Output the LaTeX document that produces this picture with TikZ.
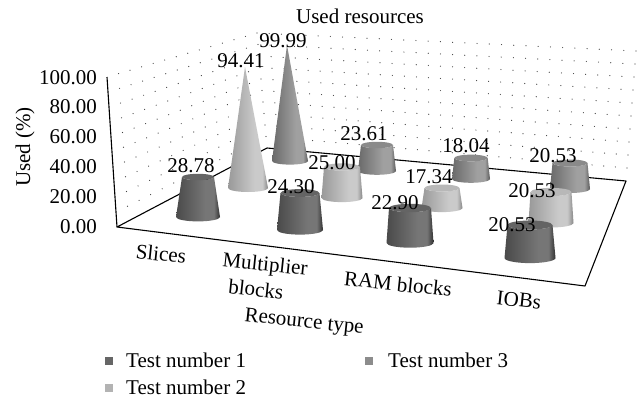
\documentclass[tikz,border=0pt]{standalone}
\usepackage{fontspec}
\setmainfont{Liberation Serif}
\usetikzlibrary{calc}
\definecolor{cAl}{HTML}{4A4A4A}\definecolor{cAm}{HTML}{767676}\definecolor{cAr}{HTML}{303030}
\definecolor{cBl}{HTML}{999999}\definecolor{cBm}{HTML}{CACACA}\definecolor{cBr}{HTML}{868686}
\definecolor{cCl}{HTML}{6A6A6A}\definecolor{cCm}{HTML}{A0A0A0}\definecolor{cCr}{HTML}{585858}
\definecolor{capA}{HTML}{646464}\definecolor{capB}{HTML}{B8B8B8}\definecolor{capC}{HTML}{8A8A8A}
\definecolor{legA}{HTML}{666666}\definecolor{legB}{HTML}{B3B3B3}\definecolor{legC}{HTML}{8C8C8C}
\definecolor{dotc}{HTML}{404040}
\pgfdeclarehorizontalshading{shA}{100bp}{color(0bp)=(cAl); color(25bp)=(cAl); color(58bp)=(cAm); color(68bp)=(cAm); color(75bp)=(cAr); color(100bp)=(cAr)}
\pgfdeclarehorizontalshading{shB}{100bp}{color(0bp)=(cBl); color(25bp)=(cBl); color(58bp)=(cBm); color(68bp)=(cBm); color(75bp)=(cBr); color(100bp)=(cBr)}
\pgfdeclarehorizontalshading{shC}{100bp}{color(0bp)=(cCl); color(25bp)=(cCl); color(58bp)=(cCm); color(68bp)=(cCm); color(75bp)=(cCr); color(100bp)=(cCr)}
% #1 xb, #2 yb, #3 rb, #4 xt, #5 yt, #6 rt, #7 shading, #8 cap colour
\newcommand{\conedraw}[8]{%
  \shade[shading=#7] (#1-#3,-#2) -- (#4-#6,-#5)
    arc[start angle=180,end angle=360,x radius=#6pt,y radius={0.2*#6pt}]
    -- (#1+#3,-#2)
    arc[start angle=0,end angle=-180,x radius=#3pt,y radius={0.2*#3pt}] -- cycle;
  \fill[#8] (#4,-#5) ellipse[x radius=#6pt,y radius={0.2*#6pt}];
}
% pointed cone: #1 xb, #2 yb, #3 rb, #4 xt, #5 yt, #6 shading
\newcommand{\conepoint}[6]{%
  \shade[shading=#6] (#1-#3,-#2) -- (#4,-#5) -- (#1+#3,-#2)
    arc[start angle=0,end angle=-180,x radius=#3pt,y radius={0.2*#3pt}] -- cycle;
}
\begin{document}
\begin{tikzpicture}[x=1pt,y=1pt,
  every node/.style={font=\fontsize{21}{22}\selectfont, inner sep=0pt},
  edge/.style={line width=1.1pt, line join=round},
  legbox/.style={minimum size=8pt}]
\useasboundingbox (0,0) rectangle (640,-402);
\fill[white] (0,0) rectangle (640,-402);
% frame corners
\coordinate (A) at (117,-227);
\coordinate (D) at (107,-77);
\coordinate (B) at (267,-148);
\coordinate (C) at (257,-33);
\coordinate (E) at (626,-181);
\coordinate (F) at (636,-51);
\coordinate (G) at (585,-286);
% dotted grid: left wall and back wall
\foreach \k in {1,...,10}{
  \foreach \i in {1,...,12}{
    \fill[dotc] ($($(A)!\k/10!(D)$)!\i/13!($(B)!\k/10!(C)$)$) circle (0.6pt);
  }
  \foreach \i in {0,...,31}{
    \fill[dotc] ($($(B)!\k/10!(C)$)!\i/31!($(E)!\k/10!(F)$)$) circle (0.6pt);
  }
}
% floor and axis
\draw[edge] (D) -- (A);
\draw[edge] (A) -- (G) -- (E) -- (B) -- cycle;
% cones, back row (Test number 3)
\conepoint{290}{161}{18}{287}{45}{shC}
\conedraw{377}{171}{19}{377}{145}{16}{shC}{capC}
\conedraw{471}{179}{19}{471}{158}{16.7}{shC}{capC}
\conedraw{570}{189}{20}{570}{163}{17.5}{shC}{capC}
% middle row (Test number 2)
\conepoint{248}{188}{20}{245}{67}{shB}
\conedraw{342}{198}{20.5}{342}{167}{18}{shB}{capB}
\conedraw{442}{208}{20.5}{442}{188}{17.5}{shB}{capB}
\conedraw{551}{223}{22.5}{551}{192}{20.5}{shB}{capB}
% front row (Test number 1)
\conedraw{198}{217}{22}{198}{177}{16}{shA}{capA}
\conedraw{300}{230}{23}{300}{193}{19.5}{shA}{capA}
\conedraw{410}{243}{23.5}{410}{208}{21}{shA}{capA}
\conedraw{530}{258}{25.5}{530}{225}{22.5}{shA}{capA}
% data labels
\node (l11) at (191,-166) {28.78};
\node (l12) at (291,-187) {24.30};
\node (l13) at (395,-203) {22.90};
\node (l14) at (512,-225) {20.53};
\node (l21) at (241,-61) {94.41};
\node (l22) at (332,-163) {25.00};
\node (l23) at (429,-177) {17.34};
\node (l24) at (532,-191) {20.53};
\node (l31) at (283,-41) {99.99};
\node (l32) at (364,-134) {23.61};
\node (l33) at (466,-146) {18.04};
\node (l34) at (553,-156) {20.53};
% title
\node (title) at (360,-16) {Used resources};
% y axis labels
\node[anchor=east] (y100) at (97,-78) {100.00};
\node[anchor=east] (y80) at (97,-107) {80.00};
\node[anchor=east] (y60) at (97,-137) {60.00};
\node[anchor=east] (y40) at (97,-167) {40.00};
\node[anchor=east] (y20) at (97,-197) {20.00};
\node[anchor=east] (y0) at (97,-227) {0.00};
\node[rotate=90] (ytitle) at (25,-147) {Used (\%)};
% category labels
\node[rotate=-6] (c1) at (161,-254) {Slices};
\node[rotate=-6] (c2a) at (265,-266) {Multiplier};
\node[rotate=-6] (c2b) at (256,-289) {blocks};
\node[rotate=-6] (c3) at (398,-284) {RAM blocks};
\node[rotate=-6] (c4) at (519,-300) {IOBs};
\node[rotate=-6] (xtitle) at (304,-323) {Resource type};
% legend
\node[legbox, fill=legA] (k1) at (109,-361) {};
\node[anchor=west] (t1) at (126,-360) {Test number 1};
\node[legbox, fill=legB] (k2) at (109,-388) {};
\node[anchor=west] (t2) at (126,-387) {Test number 2};
\node[legbox, fill=legC] (k3) at (369,-361) {};
\node[anchor=west] (t3) at (388,-360) {Test number 3};
\end{tikzpicture}
\end{document}
